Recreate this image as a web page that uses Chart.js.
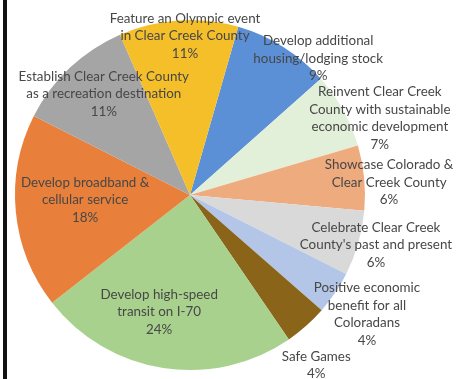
<!DOCTYPE html>
<html>
<head>
<meta charset="utf-8">
<script src="https://cdn.jsdelivr.net/npm/chart.js@4/dist/chart.umd.min.js"></script>
<style>
    html, body { margin: 0; padding: 0; background: #fff; }
    #wrap { position: relative; width: 457px; height: 379px; overflow: hidden; }
    #edge { position: absolute; left: 3px; top: 0; width: 4px; height: 379px; background: #111; }
    canvas { position: absolute; left: 0; top: 0; }
</style>
</head>
<body>
<div id="wrap">
    <canvas id="goalsPie" width="457" height="379"></canvas>
    <div id="edge"></div>
</div>
<script>
var categories = [
    ['Develop additional', 'housing/lodging stock'],
    ['Reinvent Clear Creek', 'County with sustainable', 'economic development'],
    ['Showcase Colorado &', 'Clear Creek County'],
    ['Celebrate Clear Creek', "County's past and present"],
    ['Positive economic', 'benefit for all', 'Coloradans'],
    ['Safe Games'],
    ['Develop high-speed', 'transit on I-70'],
    ['Develop broadband &', 'cellular service'],
    ['Establish Clear Creek County', 'as a recreation destination'],
    ['Feature an Olympic event', 'in Clear Creek County']
];
var shares = [9, 7, 6, 6, 4, 4, 24, 18, 11, 11];
var sliceColors = ['#5b8fd6', '#e2efd9', '#eeab7e', '#d9d9d9', '#b4c6e7',
                   '#8a6418', '#a9d18e', '#e8803c', '#a5a5a5', '#f5bf2a'];

// label placement: distance from centre (fraction of radius) and angle tweak (deg)
var labelRadius = [1.07, 1.17, 1.14, 1.10, 1.22, 1.21, 0.69, 0.60, 0.76, 0.91];
var labelTurn = [11, 7, 2, -1, 0, 5, 6, 3, 3, 2];

var sliceLabels = {
    id: 'sliceLabels',
    afterDatasetsDraw: function(chart) {
        var ctx = chart.ctx;
        var meta = chart.getDatasetMeta(0);
        ctx.save();
        ctx.font = '13.4px Lato';
        ctx.fillStyle = '#474747';
        ctx.textAlign = 'center';
        ctx.textBaseline = 'middle';
        meta.data.forEach(function(arc, i) {
            var p = arc.getProps(['x', 'y', 'startAngle', 'endAngle', 'outerRadius'], true);
            var mid = (p.startAngle + p.endAngle) / 2 + labelTurn[i] * Math.PI / 180;
            var r = p.outerRadius * labelRadius[i];
            var cx = p.x + Math.cos(mid) * r;
            var cy = p.y + Math.sin(mid) * r;
            var lines = categories[i].concat([chart.data.datasets[0].data[i] + '%']);
            var lh = 17.5;
            var top = cy - (lines.length - 1) * lh / 2;
            lines.forEach(function(t, k) {
                ctx.fillText(t, cx, top + k * lh);
            });
        });
        ctx.restore();
    }
};

var ctx = document.getElementById('goalsPie').getContext('2d');
var goalsPie = new Chart(ctx, {
    type: 'pie',
    data: {
        labels: categories.map(function(c) { return c.join(' '); }),
        datasets: [{
            data: shares,
            backgroundColor: sliceColors,
            borderWidth: 0
        }]
    },
    options: {
        responsive: false,
        animation: false,
        rotation: 16,
        layout: { padding: { left: 15, right: 92, top: 20, bottom: 9 } },
        plugins: {
            legend: { display: false },
            tooltip: { enabled: false }
        }
    },
    plugins: [sliceLabels]
});
</script>
</body>
</html>
